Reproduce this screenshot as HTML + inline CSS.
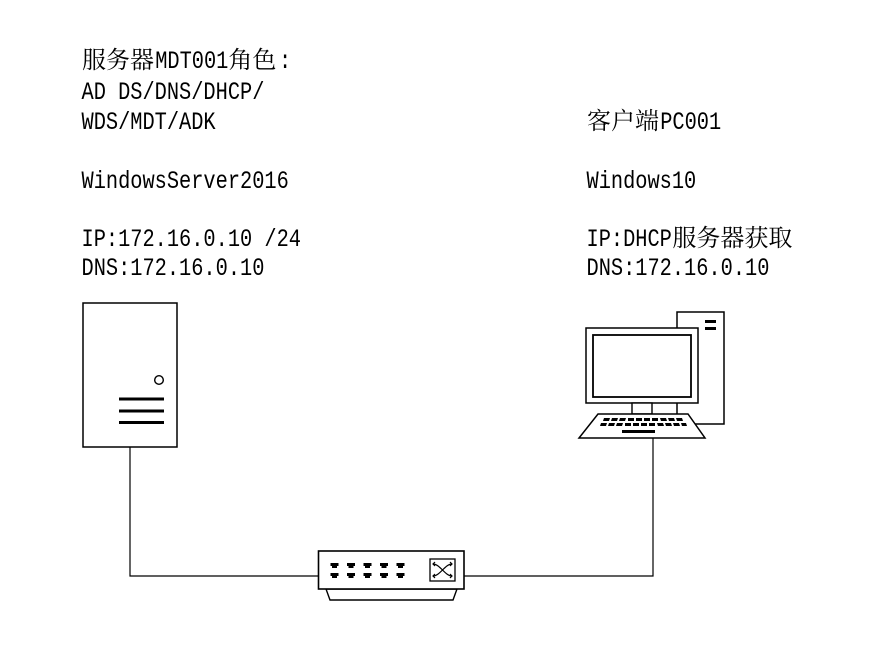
<!DOCTYPE html>
<html>
<head>
<meta charset="utf-8">
<style>
  html,body{margin:0;padding:0;background:#fff;}
  body{width:875px;height:650px;overflow:hidden;}
  svg{display:block;}
  .lat{font-family:"Liberation Mono", monospace;font-size:20.33px;fill:#000;}
  .cjk{font-family:"Noto Serif CJK SC","Liberation Serif",serif;font-size:24px;fill:#000;}
</style>
</head>
<body>
<svg width="875" height="650" viewBox="0 0 875 650" xmlns="http://www.w3.org/2000/svg">
  <rect width="875" height="650" fill="#fff"/>

  <!-- Left text block -->
  <text class="cjk" x="82" y="68">服务器</text>
  <text class="lat" transform="translate(155.2,68) scale(1,1.25)" x="0" y="0">MDT001</text>
  <text class="cjk" x="228.4" y="68">角色</text>
  <text class="lat" transform="translate(279,68) scale(1,1.25)" x="0" y="0">:</text>

  <text class="lat" transform="translate(81.5,99) scale(1,1.25)" x="0" y="0">AD DS/DNS/DHCP/</text>
  <text class="lat" transform="translate(81.5,129) scale(1,1.25)" x="0" y="0">WDS/MDT/ADK</text>
  <text class="lat" transform="translate(81.5,188) scale(1,1.25)" x="0" y="0">WindowsServer2016</text>
  <text class="lat" transform="translate(81.5,246) scale(1,1.25)" x="0" y="0">IP:172.16.0.10 /24</text>
  <text class="lat" transform="translate(81.5,275) scale(1,1.25)" x="0" y="0">DNS:172.16.0.10</text>

  <!-- Right text block -->
  <text class="cjk" x="587" y="129">客户端</text>
  <text class="lat" transform="translate(660.2,129) scale(1,1.25)" x="0" y="0">PC001</text>
  <text class="lat" transform="translate(586.5,188) scale(1,1.25)" x="0" y="0">Windows10</text>
  <text class="lat" transform="translate(586.5,246) scale(1,1.25)" x="0" y="0">IP:DHCP</text>
  <text class="cjk" x="672.4" y="246">服务器获取</text>
  <text class="lat" transform="translate(586.5,275) scale(1,1.25)" x="0" y="0">DNS:172.16.0.10</text>

  <!-- Connectors -->
  <polyline points="130,447 130,576 318,576" fill="none" stroke="#000" stroke-width="1.2"/>
  <polyline points="464,576 653,576 653,438" fill="none" stroke="#000" stroke-width="1.2"/>

  <!-- Server -->
  <rect x="83" y="303" width="94" height="144" fill="#fff" stroke="#000" stroke-width="1.5"/>
  <circle cx="159" cy="380" r="4.3" fill="#fff" stroke="#000" stroke-width="1.4"/>
  <rect x="119" y="397.5" width="45" height="3" fill="#000"/>
  <rect x="119" y="409.5" width="45" height="3" fill="#000"/>
  <rect x="119" y="421" width="45" height="3" fill="#000"/>

  <!-- PC tower -->
  <rect x="677" y="312" width="47" height="112" fill="#fff" stroke="#000" stroke-width="1.5"/>
  <rect x="705" y="320" width="11" height="3" fill="#000"/>
  <rect x="705" y="327" width="11" height="3" fill="#000"/>
  <!-- Monitor -->
  <rect x="586" y="328" width="112" height="75" fill="#fff" stroke="#000" stroke-width="1.5"/>
  <rect x="593" y="335" width="98" height="62" fill="#fff" stroke="#000" stroke-width="1.8"/>
  <!-- Stand -->
  <rect x="632" y="403" width="20" height="11" fill="#fff" stroke="#000" stroke-width="1.4"/>
  <!-- Keyboard -->
  <polygon points="598,414 688,414 705,438 579,438" fill="#fff" stroke="#000" stroke-width="1.5"/>
  <g fill="#000">
    <!-- row 1 -->
    <polygon points="604,418 610,418 609,421 603,421"/>
    <polygon points="612,418 618,418 617,421 611,421"/>
    <polygon points="620,418 626,418 625,421 619,421"/>
    <polygon points="628,418 634,418 634,421 628,421"/>
    <polygon points="636,418 642,418 642,421 636,421"/>
    <polygon points="644,418 650,418 650,421 644,421"/>
    <polygon points="652,418 658,418 658,421 652,421"/>
    <polygon points="660,418 666,418 667,421 661,421"/>
    <polygon points="668,418 674,418 675,421 669,421"/>
    <polygon points="676,418 682,418 683,421 677,421"/>
    <!-- row 2 -->
    <polygon points="601,423 607,423 606,426 600,426"/>
    <polygon points="609,423 615,423 614,426 608,426"/>
    <polygon points="617,423 623,423 622,426 616,426"/>
    <polygon points="625,423 631,423 631,426 625,426"/>
    <polygon points="633,423 639,423 639,426 633,426"/>
    <polygon points="641,423 647,423 647,426 641,426"/>
    <polygon points="649,423 655,423 655,426 649,426"/>
    <polygon points="657,423 663,423 664,426 658,426"/>
    <polygon points="665,423 671,423 672,426 666,426"/>
    <polygon points="673,423 679,423 680,426 674,426"/>
    <polygon points="681,423 686,423 687,426 682,426"/>
    <!-- spacebar -->
    <rect x="622" y="430" width="33" height="3"/>
  </g>

  <!-- Switch -->
  <polygon points="326,589 457,589 453,600 330,600" fill="#fff" stroke="#000" stroke-width="1.4"/>
  <rect x="318.5" y="551" width="145.5" height="38" fill="#fff" stroke="#000" stroke-width="1.6"/>
  <g fill="#000">
    <path d="M330.5,563 h8 v3 h-1.5 v2 h-5 v-2 h-1.5 z"/>
    <path d="M347,563 h8 v3 h-1.5 v2 h-5 v-2 h-1.5 z"/>
    <path d="M363.5,563 h8 v3 h-1.5 v2 h-5 v-2 h-1.5 z"/>
    <path d="M380,563 h8 v3 h-1.5 v2 h-5 v-2 h-1.5 z"/>
    <path d="M396.5,563 h8 v3 h-1.5 v2 h-5 v-2 h-1.5 z"/>
    <path d="M330.5,573 h8 v3 h-1.5 v2 h-5 v-2 h-1.5 z"/>
    <path d="M347,573 h8 v3 h-1.5 v2 h-5 v-2 h-1.5 z"/>
    <path d="M363.5,573 h8 v3 h-1.5 v2 h-5 v-2 h-1.5 z"/>
    <path d="M380,573 h8 v3 h-1.5 v2 h-5 v-2 h-1.5 z"/>
    <path d="M396.5,573 h8 v3 h-1.5 v2 h-5 v-2 h-1.5 z"/>
  </g>
  <rect x="430" y="559" width="25" height="22" fill="#fff" stroke="#000" stroke-width="1.3"/>
  <g fill="none" stroke="#000" stroke-width="1.2">
    <path d="M433,564 C440,564 445,576 452,576"/>
    <path d="M433,576 C440,576 445,564 452,564"/>
    <path d="M435,562 L433,564 L435,566"/>
    <path d="M435,574 L433,576 L435,578"/>
    <path d="M450,562 L452,564 L450,566"/>
    <path d="M450,574 L452,576 L450,578"/>
  </g>
</svg>
</body>
</html>
